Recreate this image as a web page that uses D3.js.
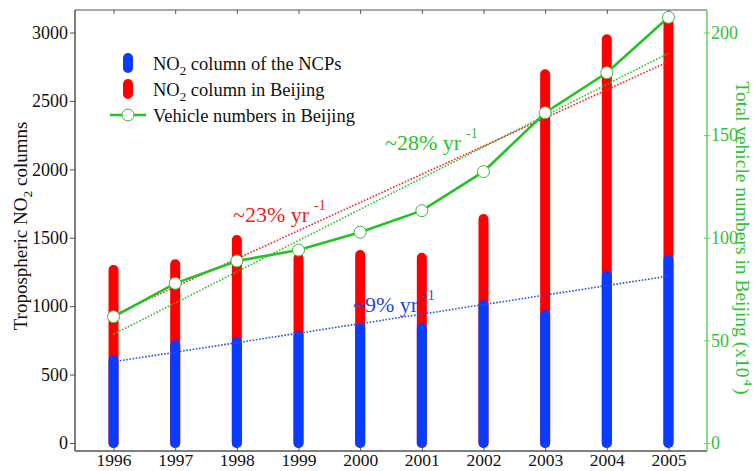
<!DOCTYPE html>
<html><head><meta charset="utf-8">
<script src="https://cdn.jsdelivr.net/npm/d3@7"></script>
<style>body{margin:0;background:#fff}svg{display:block}text{font-family:"Liberation Serif","Times New Roman",serif}</style>
</head><body><svg id="c" width="755" height="471"></svg>
<script>
const years = [1996,1997,1998,1999,2000,2001,2002,2003,2004,2005];
const ncpValues = [607,716,740,784,843,838,1008,935,1223,1337];
const beijingValues = [1264,1306,1484,1352,1374,1354,1637,2694,2950,3070];
const vehicleValues = [61.5,77.8,88.7,94.0,102.7,113.2,132.2,160.9,180.4,207.4];
const trendNCP = [594,1220];
const trendBeijing = [935,2787];
const trendVehicle = [53.0,189.9];
const leftTicks = [0,500,1000,1500,2000,2500,3000];
const rightTicks = [0,50,100,150,200];

const svg = d3.select("#c");
const L=75,R=707,T=10,B=451;
const x = d3.scalePoint().domain(years).range([L,R]).padding(0.625);
const yL = d3.scaleLinear().domain([0,3000]).range([443,32.5]);
const yR = d3.scaleLinear().domain([0,200]).range([443,32.5]);
const BLUE="#0a3cff", RED="#ff0000", GREEN="#22c322", GAX="#5fd35f";

// frame
svg.append("line").attr("x1",L).attr("x2",R).attr("y1",T).attr("y2",T).attr("stroke","#555").attr("stroke-width",1.2);
svg.append("line").attr("x1",L).attr("x2",R).attr("y1",B).attr("y2",B).attr("stroke","#555").attr("stroke-width",1.5);

// bars
const bars = svg.append("g");
bars.selectAll(".r").data(years).join("line")
  .attr("x1",d=>x(d)).attr("x2",d=>x(d))
  .attr("y1",yL(0)).attr("y2",(d,i)=>yL(beijingValues[i]))
  .attr("stroke",RED).attr("stroke-width",10).attr("stroke-linecap","round");
bars.selectAll(".b").data(years).join("line")
  .attr("x1",d=>x(d)).attr("x2",d=>x(d))
  .attr("y1",yL(0)).attr("y2",(d,i)=>yL(ncpValues[i]))
  .attr("stroke",BLUE).attr("stroke-width",10).attr("stroke-linecap","round");

// axes
const gL = svg.append("g").attr("transform",`translate(${L},0)`)
  .call(d3.axisLeft(yL).tickValues(leftTicks).tickFormat(d3.format("d")).tickSize(5).tickPadding(2).tickSizeOuter(0));
gL.select(".domain").remove();
gL.append("line").attr("y1",T).attr("y2",B).attr("stroke","#555").attr("stroke-width",1.5);
gL.selectAll(".tick line").attr("stroke","#555");
gL.selectAll("text").attr("font-size",18).attr("fill","#111");

const gB = svg.append("g").attr("transform",`translate(0,${B})`)
  .call(d3.axisBottom(x).tickSize(-5).tickPadding(3).tickSizeOuter(0));
gB.select(".domain").remove();
gB.selectAll(".tick line").attr("stroke","#555");
gB.selectAll("text").attr("font-size",17.5).attr("fill","#111");

const gT = svg.append("g").attr("transform",`translate(0,${T})`)
  .call(d3.axisTop(x).tickSize(-4).tickFormat("").tickSizeOuter(0));
gT.select(".domain").remove();
gT.selectAll(".tick line").attr("stroke","#555");

const gR = svg.append("g").attr("transform",`translate(${R},0)`)
  .call(d3.axisRight(yR).tickValues(rightTicks).tickSize(3).tickPadding(1).tickSizeOuter(0));
gR.select(".domain").remove();
gR.append("line").attr("y1",T).attr("y2",B).attr("stroke",GAX).attr("stroke-width",1.5);
gR.selectAll(".tick line").attr("x1",-3).attr("stroke",GAX);
gR.selectAll("text").attr("font-size",18).attr("fill","#33c033");

// trend lines
function trend(vals, scale, color){
  svg.append("line").attr("x1",x(years[0])).attr("x2",x(years[years.length-1]))
    .attr("y1",scale(vals[0])).attr("y2",scale(vals[1]))
    .attr("stroke",color).attr("stroke-width",1.6).attr("stroke-dasharray","1.6,1.6");
}
trend(trendNCP,yL,"#2a4fe0");
trend(trendBeijing,yL,"#ff2020");
trend(trendVehicle,yR,"#2cc02c");

// vehicle line
svg.append("path").datum(vehicleValues)
  .attr("d",d3.line().x((d,i)=>x(years[i])).y(d=>yR(d)))
  .attr("fill","none").attr("stroke",GREEN).attr("stroke-width",2.6);
svg.selectAll(".v").data(vehicleValues).join("circle")
  .attr("cx",(d,i)=>x(years[i])).attr("cy",d=>yR(d)).attr("r",6)
  .attr("fill","#fff").attr("stroke","#3cb83c").attr("stroke-width",1);

// annotations
function annot(x0,y0,main,color){
  const t = svg.append("text").attr("x",x0).attr("y",y0).attr("font-size",22).attr("fill",color);
  t.append("tspan").text(main);
  t.append("tspan").attr("dx",5).attr("dy",-12).attr("font-size",14).text("-1");
}
annot(233,221.5,"~23% yr","#ee1c1c");
annot(385,150,"~28% yr","#2cbf2c");
annot(353,312,"~9% yr","#2446dd");

// legend
const lg = svg.append("g");
lg.append("rect").attr("x",123).attr("y",53).attr("width",10).attr("height",20).attr("rx",5).attr("fill",BLUE);
lg.append("rect").attr("x",123).attr("y",79).attr("width",10).attr("height",20).attr("rx",5).attr("fill",RED);
lg.append("line").attr("x1",110).attr("x2",146).attr("y1",115).attr("y2",115).attr("stroke",GREEN).attr("stroke-width",2.6);
lg.append("circle").attr("cx",128).attr("cy",115).attr("r",6).attr("fill","#fff").attr("stroke","#3cb83c");
function legText(y0, parts){
  const t = lg.append("text").attr("x",153).attr("y",y0).attr("font-size",18.5).attr("fill","#111");
  parts.forEach(p=>{
    const s = t.append("tspan").text(p.t);
    if(p.sub){ s.attr("font-size",13).attr("dy",5); }
    if(p.back){ s.attr("dy",-5); }
  });
}
legText(69.5,[{t:"NO"},{t:"2",sub:true},{t:" column of the NCPs",back:true}]);
legText(95.5,[{t:"NO"},{t:"2",sub:true},{t:" column in Beijing",back:true}]);
legText(121.5,[{t:"Vehicle numbers in Beijing"}]);

// axis titles
const tl = svg.append("text").attr("transform","translate(27,226) rotate(-90)")
  .attr("text-anchor","middle").attr("font-size",19).attr("fill","#111");
tl.append("tspan").text("Tropospheric NO");
tl.append("tspan").attr("font-size",13.5).attr("dy",5).text("2");
tl.append("tspan").attr("dy",-5).text(" columns");

const tr = svg.append("text").attr("transform","translate(736,238) rotate(90)")
  .attr("text-anchor","middle").attr("font-size",19.5).attr("fill","#33c033");
tr.append("tspan").text("Total vehicle numbers in Beijing (x10");
tr.append("tspan").attr("font-size",13).attr("dy",-8).attr("dx",2).text("4");
tr.append("tspan").attr("dy",8).attr("dx",2).text(")");
</script></body></html>
